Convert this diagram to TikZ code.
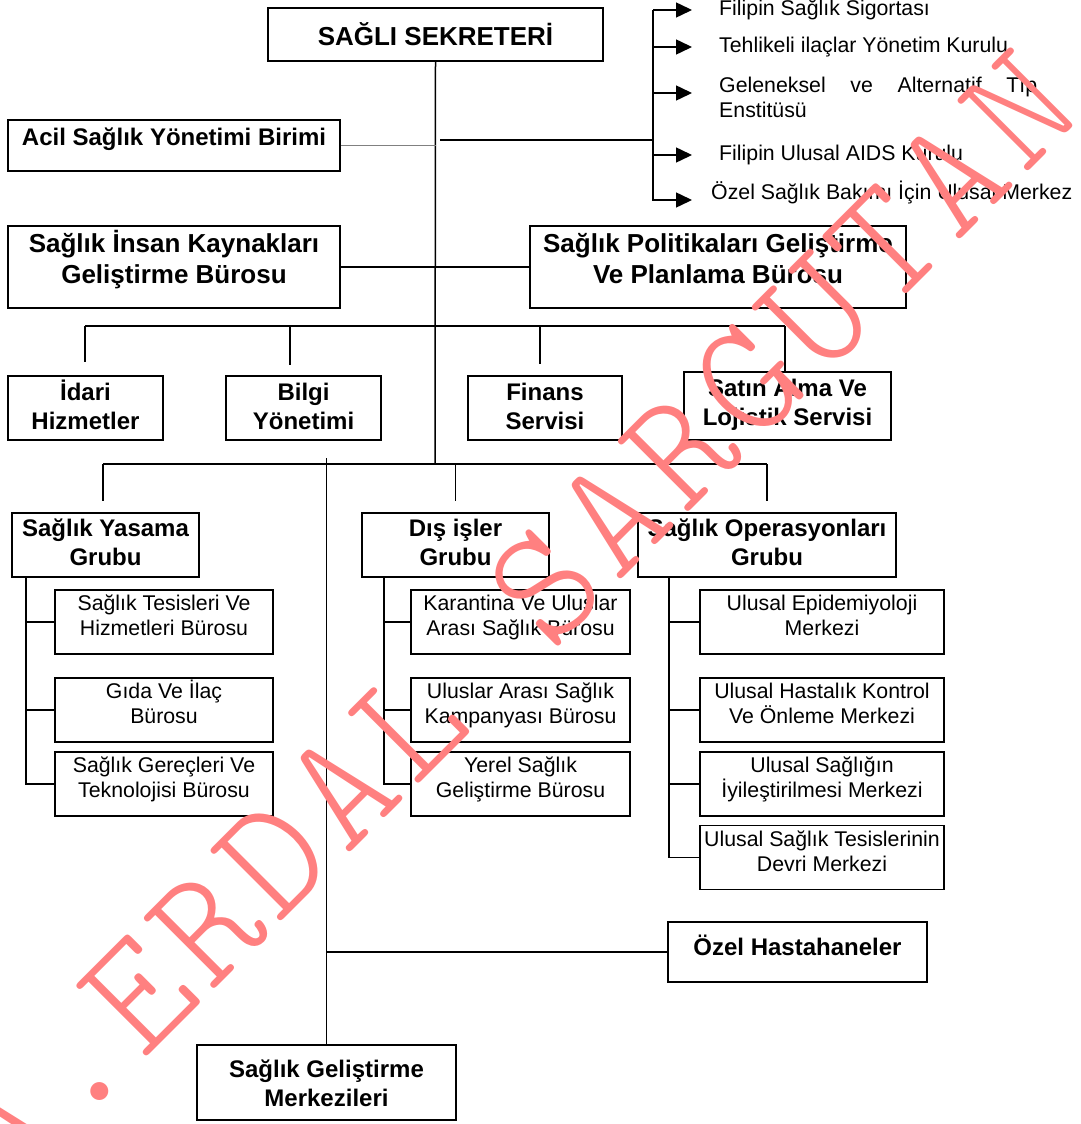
\documentclass[tikz,border=0pt]{standalone}
\usepackage{fontspec}
\setmainfont{Liberation Sans}
\usetikzlibrary{arrows.meta}

\definecolor{wmark}{RGB}{255,128,128}
\newcommand{\bigbf}{\fontsize{26}{31}\selectfont\bfseries}
\newcommand{\midbf}{\fontsize{24}{29}\selectfont\bfseries}
\newcommand{\smallrm}{\fontsize{21.3}{25}\selectfont}

\tikzset{
  box/.style={draw, line width=1.8pt, align=center, inner sep=0pt},
  sz/.style n args={4}{minimum width=#1, minimum height=#2, text height=#3, text depth=#4},
  bigbox/.style={box, font=\bigbf},
  grpbox/.style={box, font=\midbf},
  subbox/.style={box, font=\smallrm, sz={#1}{64pt}{45.5pt}{18.5pt}},
  conn/.style={line width=1.5pt},
  arr/.style={line width=1.5pt, -{Triangle[length=16pt,width=15pt]}},
  lst/.style={font=\smallrm, anchor=west, inner sep=0pt},
  wm/.style={text=wmark, font=\fontsize{165}{165}\selectfont\fontseries{l}\ttfamily,
    anchor=base, rotate=45, inner sep=0pt}
}

\begin{document}
\begin{tikzpicture}[x=1pt,y=-1pt]
\useasboundingbox (0,0) rectangle (1080,1124);

% top
\node[bigbox, sz={335pt}{53pt}{37.5pt}{15.5pt}] (sek) at (435.5,34.5) {SAĞLI SEKRETERİ};
\node[grpbox, sz={332pt}{51pt}{25.5pt}{25.5pt}] (acil) at (174,145.5) {Acil Sağlık Yönetimi Birimi};
\node[bigbox, sz={332pt}{82pt}{57pt}{25pt}] (insan) at (174,267) {Sağlık İnsan Kaynakları\\Geliştirme Bürosu};
\node[bigbox, sz={376pt}{82pt}{57pt}{25pt}] (pol) at (718,267) {Sağlık Politikaları Geliştirme\\Ve Planlama Bürosu};

% services row
\node[grpbox, sz={155pt}{64pt}{53pt}{11pt}] (idari) at (85.5,408) {İdari\\Hizmetler};
\node[grpbox, sz={155pt}{64pt}{53pt}{11pt}] (bilgi) at (303.5,408) {Bilgi\\Yönetimi};
\node[grpbox, sz={154pt}{64pt}{53pt}{11pt}] (finans) at (545,408) {Finans\\Servisi};
\node[grpbox, sz={207pt}{68pt}{53pt}{15pt}] (satin) at (787.5,406) {Satın Alma Ve\\Lojistik Servisi};

% groups
\node[grpbox, sz={187pt}{64pt}{52.5pt}{11.5pt}] (yasama) at (105.5,545) {Sağlık Yasama\\Grubu};
\node[grpbox, sz={187pt}{64pt}{52.5pt}{11.5pt}] (dis) at (455.5,545) {Dış işler\\Grubu};
\node[grpbox, sz={258pt}{64pt}{52.5pt}{11.5pt}] (ops) at (767,545) {Sağlık Operasyonları\\Grubu};

\foreach \n/\y/\t in {y1/622/{Sağlık Tesisleri Ve\\Hizmetleri Bürosu},
    y2/710/{Gıda Ve İlaç\\Bürosu}, y3/784/{Sağlık Gereçleri Ve\\Teknolojisi Bürosu}}
  \node[subbox=218pt] (\n) at (164,\y) {\t};
\foreach \n/\y/\t in {d1/622/{Karantina Ve Uluslar\\Arası Sağlık Bürosu},
    d2/710/{Uluslar Arası Sağlık\\Kampanyası Bürosu}, d3/784/{Yerel Sağlık\\Geliştirme Bürosu}}
  \node[subbox=219pt] (\n) at (520.5,\y) {\t};
\foreach \n/\y/\t in {o1/622/{Ulusal Epidemiyoloji\\Merkezi},
    o2/710/{Ulusal Hastalık Kontrol\\Ve Önleme Merkezi}, o3/784/{Ulusal Sağlığın\\İyileştirilmesi Merkezi},
    o4/857.5/{Ulusal Sağlık Tesislerinin\\Devri Merkezi}}
  \node[subbox=244pt] (\n) at (822,\y) {\t};

\node[grpbox, sz={259pt}{60pt}{33.5pt}{26.5pt}] (ozel) at (797.5,952) {Özel Hastahaneler};
\node[grpbox, sz={259pt}{75pt}{61.5pt}{13.5pt}] (merk) at (326.5,1082.5) {Sağlık Geliştirme\\Merkezileri};

% right list
\node[lst] (t1) at (719,10) {Filipin Sağlık Sigortası};
\node[lst] (t2) at (719,47) {Tehlikeli ilaçlar Yönetim Kurulu};
\node[lst, text width=318pt, align=justify] (t3) at (719,97) {Geleneksel ve Alternatif Tıp\linebreak Enstitüsü};
\node[lst] (t4) at (719,155) {Filipin Ulusal AIDS Kurulu};
\node[lst] (t5) at (711,193) {Özel Sağlık Bakımı İçin Ulusal Merkez};

% connectors
\coordinate (hubA) at (435,326);
\coordinate (hubB) at (435,464);
\coordinate (tap) at (440,140);
\coordinate (brk) at (653,140);

\draw[conn] (sek.south) -- (hubB);
\draw[line width=1pt, gray] (acil.east) -- (acil.east -| sek.south);
\draw[conn] (insan.east) -- (pol.west);

\draw[conn] (tap) -- (brk);
\draw[conn] (brk |- t1.west) -- ([yshift=-8pt]brk |- t5.west);
\foreach \t/\s/\d in {t1/27/0, t2/27/0, t3/27/4, t4/27/0, t5/19/-7}
  \draw[arr, shorten >=\s pt] ([yshift=\d pt]brk |- \t.west) -- ([yshift=\d pt]\t.west);

\draw[conn] ([xshift=-0.5pt]idari.north |- hubA) -- ([xshift=-2.5pt]satin.north |- hubA);
\foreach \n/\x/\s in {idari/-0.5/13, bilgi/-13.5/10, finans/-5/11, satin/-2.5/0}
  \draw[conn, shorten >=\s pt] ([xshift=\x pt]\n.north |- hubA) -- ([xshift=\x pt]\n.north);

\draw[conn] ([xshift=-2.5pt]yasama.north |- hubB) -- (ops.north |- hubB);
\foreach \n/\x in {yasama/-2.5, dis/0, ops/0}
  \draw[conn, shorten >=11pt] ([xshift=\x pt]\n.north |- hubB) -- ([xshift=\x pt]\n.north);

\draw[conn] ([yshift=6pt]merk.north |- hubB) -- (merk.north);
\draw[conn] (merk.north |- ozel.west) -- (ozel.west);

% sub rails
\coordinate (ry) at ([xshift=15pt]yasama.south west);
\coordinate (rd) at ([xshift=23pt]dis.south west);
\coordinate (ro) at ([xshift=32pt]ops.south west);
\draw[conn] (ry) |- (y3.west);
\draw[conn] (rd) |- (d3.west);
\draw[conn] (ro) |- (o4.west);
\foreach \r/\s in {ry/y1, ry/y2, rd/d1, rd/d2, ro/o1, ro/o2, ro/o3}
  \draw[conn] (\r |- \s.west) -- (\s.west);

% watermark
\foreach \k/\ch in {-2/A, -1/., 0/E, 1/R, 2/D, 3/A, 4/L, 6/S, 7/A, 8/R, 9/G, 10/U, 11/T, 12/A, 13/N}
  \node[wm] (wm\k) at (174+67.8*\k, 1030-68.1*\k) {\ch};
\end{tikzpicture}
\end{document}
